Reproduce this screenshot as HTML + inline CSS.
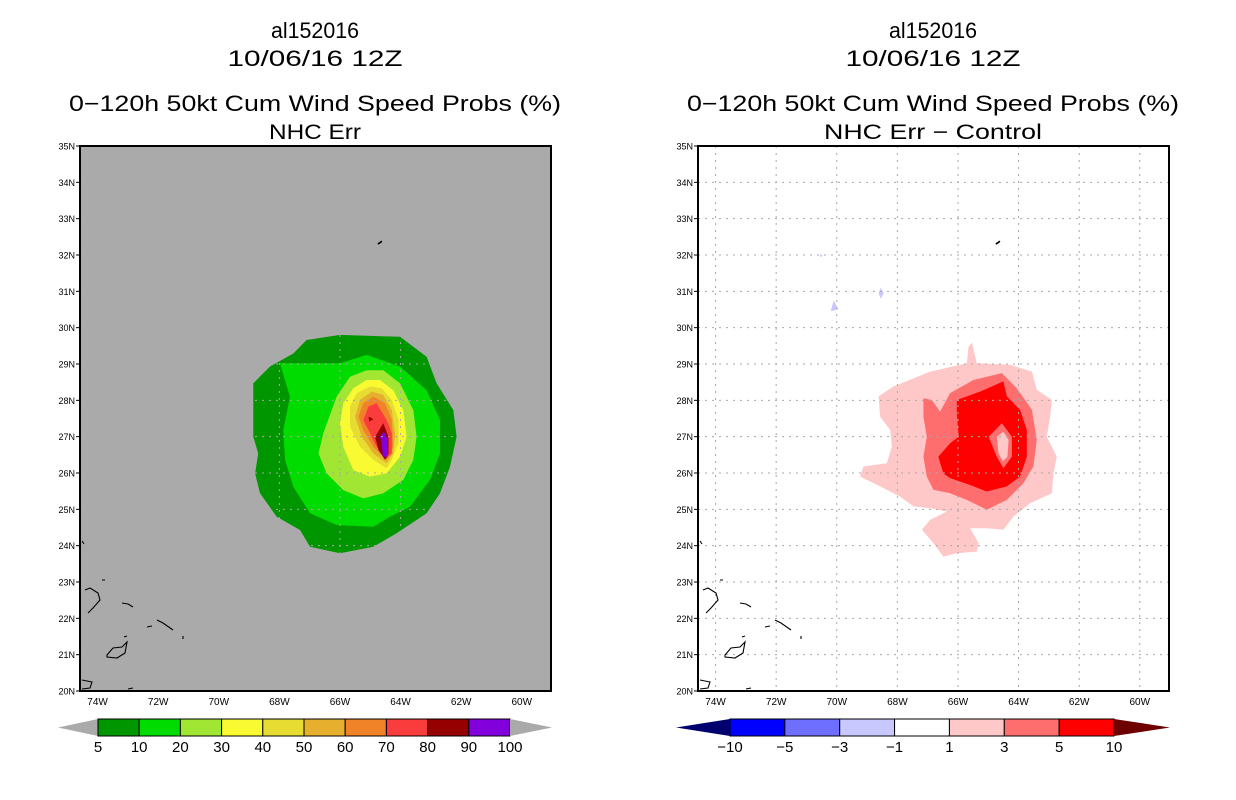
<!DOCTYPE html>
<html><head><meta charset="utf-8"><style>
html,body{margin:0;padding:0;background:#fff;}
svg{display:block;font-family:"Liberation Sans",sans-serif;}
</style></head><body>
<svg id="c" width="1236" height="800" xmlns="http://www.w3.org/2000/svg"></svg>
<script>
// ---- data: contour polygons as [lonW, latN] ----
const probLevels = [5,10,20,30,40,50,60,70,80,90];
const probColors = ["#009600","#00dc00","#a0e632","#fafa32","#e6dc32","#e6af2d","#f08228","#fa3c3c","#960000","#8200dc"];
const probTicks = ["5","10","20","30","40","50","60","70","80","90","100"];
const prob5 = [[67.10,29.66],[66.00,29.80],[64.02,29.75],[63.14,29.20],[62.81,28.47],[62.26,27.73],[62.15,27.0],[62.37,26.17],[62.70,25.44],[63.14,24.89],[64.13,24.34],[64.90,23.97],[66.00,23.79],[66.99,23.97],[67.32,24.43],[68.09,24.80],[68.64,25.44],[68.80,25.99],[68.70,26.54],[68.86,27.0],[68.86,28.47],[68.31,28.93],[67.54,29.29]];
const prob10 = [[67.98,29.02],[66.0,29.02],[65.12,29.25],[64.02,28.93],[63.14,28.28],[62.70,27.46],[62.70,26.54],[63.03,25.81],[63.69,25.07],[64.35,24.80],[64.90,24.52],[66.11,24.57],[66.99,24.89],[67.54,25.62],[67.81,26.36],[67.87,27.18],[67.65,28.10]];
const prob20 = [[65.67,28.65],[65.12,28.83],[64.57,28.83],[64.02,28.47],[63.58,27.73],[63.47,27.0],[63.58,26.36],[63.91,25.81],[64.57,25.44],[65.23,25.30],[65.89,25.53],[66.44,25.99],[66.71,26.54],[66.55,27.09],[66.11,28.10]];
const prob30 = [[65.56,28.33],[65.12,28.56],[64.68,28.56],[64.24,28.28],[63.91,27.73],[63.80,27.0],[64.02,26.45],[64.46,25.99],[65.01,25.90],[65.56,26.08],[65.89,26.72],[66.0,27.37],[65.89,27.92]];
const prob40 = [[65.45,28.19],[65.01,28.38],[64.62,28.33],[64.29,28.01],[64.07,27.46],[64.07,26.82],[64.29,26.36],[64.46,26.13],[64.90,26.36],[65.34,26.72],[65.67,27.28],[65.67,27.83]];
const prob50 = [[65.34,28.01],[64.95,28.24],[64.57,28.15],[64.29,27.73],[64.18,27.09],[64.24,26.54],[64.46,26.27],[64.90,26.54],[65.28,27.0],[65.50,27.55]];
const prob60 = [[65.23,27.92],[64.90,28.10],[64.51,27.92],[64.29,27.46],[64.24,26.72],[64.46,26.36],[64.90,26.72],[65.23,27.18],[65.39,27.55]];
const prob70 = [[65.06,27.83],[64.79,27.92],[64.46,27.46],[64.29,27.09],[64.29,26.54],[64.46,26.40],[64.79,26.72],[65.06,27.18],[65.23,27.46]];
const prob80 = [[64.84,27.0],[64.57,27.37],[64.40,27.0],[64.40,26.54],[64.51,26.36],[64.73,26.63]];
const prob80b = [[65.06,27.55],[64.90,27.49],[65.03,27.41]];
const prob90 = [[64.68,27.0],[64.55,27.14],[64.44,26.95],[64.44,26.45],[64.59,26.45],[64.62,26.82]];

const diffColors = ["#00006e","#0000ff","#6e6eff","#c8c8ff","#ffffff","#ffc8c8","#ff6e6e","#ff0000","#6e0000"];
const diffTicks = ["\u221210","\u22125","\u22123","\u22121","1","3","5","10"];
const diff1 = [[65.54,29.59],[65.38,29.02],[64.28,28.98],[63.56,28.79],[63.40,28.29],[62.90,28.01],[62.96,27.55],[63.07,27.0],[62.74,26.45],[62.85,25.99],[62.90,25.44],[63.62,25.17],[64.17,24.80],[64.50,24.44],[65.05,24.48],[65.60,24.48],[65.32,24.07],[65.38,23.84],[66.04,23.79],[66.48,23.70],[66.81,24.07],[67.19,24.44],[66.92,24.71],[66.37,24.94],[66.92,25.03],[67.47,25.08],[67.91,25.35],[68.57,25.63],[69.23,25.90],[69.12,26.18],[68.35,26.27],[68.18,26.73],[68.24,27.19],[68.57,27.55],[68.62,28.11],[68.13,28.38],[66.92,28.79],[65.71,29.02],[65.65,29.48]];
const diff3 = [[67.14,28.06],[66.86,28.01],[66.59,27.69],[66.26,28.20],[65.49,28.56],[64.55,28.75],[64.06,28.33],[63.56,27.74],[63.40,26.91],[63.51,26.18],[63.84,25.72],[64.39,25.26],[65.05,24.99],[65.71,25.26],[66.26,25.44],[66.81,25.54],[67.03,25.90],[67.14,26.45],[67.03,27.0],[67.14,27.55]];
const diff5 = [[66.04,28.01],[65.27,28.24],[64.50,28.52],[64.39,28.11],[63.95,27.74],[63.73,27.19],[63.73,26.45],[63.95,25.90],[64.39,25.63],[65.05,25.49],[65.60,25.67],[66.26,25.86],[66.48,25.99],[66.65,26.45],[66.26,26.82],[65.98,27.0],[66.04,27.65]];
const diff3in = [[64.99,27.0],[64.55,27.37],[64.22,27.0],[64.22,26.45],[64.50,26.13],[64.72,26.45]];
const diff1in = [[64.72,27.0],[64.50,27.14],[64.33,26.91],[64.37,26.45],[64.52,26.32],[64.66,26.54]];
const neg1a = [[70.1,30.75],[69.95,30.5],[70.2,30.45]];
const neg1b = [[68.55,31.1],[68.45,30.95],[68.55,30.8],[68.62,30.95]];
const neg1c = [[70.55,32.03],[70.45,31.97],[70.55,31.95]];

const latTicks = [20,21,22,23,24,25,26,27,28,29,30,31,32,33,34,35];
const lonTicks = [74,72,70,68,66,64,62,60];

const NS="http://www.w3.org/2000/svg";
const svg=document.getElementById('c');
function mk(tag,attrs,parent){const e=document.createElementNS(NS,tag);for(const k in attrs)e.setAttribute(k,attrs[k]);(parent||svg).appendChild(e);return e;}
const PT=146,PB=691,PW=471;
const yLat=lat=>PB-(lat-20)*(PB-PT)/15;
function xLon(x0){return w=>x0+(74.58-w)*30.3;}
function poly(pts,x,fill,g,name){const p=mk('polygon',{points:pts.map(q=>x(q[0]).toFixed(1)+','+yLat(q[1]).toFixed(1)).join(' '),fill:fill},g);


return p;}
function text(s,x,y,size,g,name,anchor,len){const t=mk('text',{x:x,y:y,'font-size':size,'text-anchor':anchor||'middle',fill:'#000'},g);t.textContent=s;
if(len){t.setAttribute('textLength',len);t.setAttribute('lengthAdjust','spacingAndGlyphs');}


return t;}

const coast=[
"M85,590 L90,588 L98,593 L100,600 L93,608 L88,613","M102,580 L105,580",
"M122,603 L128,604 L133,607","M147,627 L152,626","M157,620 L163,623 L173,630",
"M107,655 L113,648 L122,647 L127,642 L125,653 L117,658 L107,657 Z","M124,637 L127,636",
"M183,636 L183,639","M82,680 L92,682 L90,688 L82,689","M128,689 L133,688","M82,541 L84,544"];

function panel(x0,bg,title2,name,len2){
  const g=mk('g',{},svg);
  
  
  const x=xLon(x0);
  const cx=x0+235;
  text('al152016',cx,38,22,g,'title-storm-id','middle',88);
  text('10/06/16 12Z',cx,66,22,g,'title-date','middle',175);
  text('0\u2212120h 50kt Cum Wind Speed Probs (%)',cx,111,22,g,'title-product','middle',492);
  text(title2,cx,139,21,g,'subtitle','middle',len2);
  const bgr=mk('rect',{x:x0,y:PT,width:PW,height:PB-PT,fill:bg},g);
  
  
  return {g,x,x0};
}
function frame(P){
  const {g,x,x0}=P;
  lonTicks.forEach(w=>{const l=mk('line',{x1:x(w),x2:x(w),y1:PT,y2:PB,stroke:'#a8a8a8','stroke-dasharray':'2,5'},g);
    
    
    text(w+'W',x(w),705,10,g,'x-tick-label');});
  latTicks.forEach(l=>{const y=yLat(l);
    if(l>20&&l<35){const gl=mk('line',{x1:x0,x2:x0+PW,y1:y,y2:y,stroke:'#a8a8a8','stroke-dasharray':'2,5'},g);
      
      }
    mk('line',{x1:x0-4,x2:x0,y1:y,y2:y,stroke:'#000'},g);
    text(l+'N',x0-5,y+3.5,9,g,'y-tick-label','end');});
  const cp=mk('path',{d:coast.join(' '),fill:'none',stroke:'#000','stroke-width':1.1,transform:'translate('+(x0-80)+',0)'},g);
  
  
  const bm=mk('path',{d:'M'+x(64.75)+','+yLat(32.3)+' l3,-2 l1,-1',fill:'none',stroke:'#000','stroke-width':1.6},g);
  
  
  const fr=mk('rect',{x:x0,y:PT,width:PW,height:PB-PT,fill:'none',stroke:'#000','stroke-width':2},g);
  
  
}

// left panel
const L=panel(80,'#aaaaaa','NHC Err','panel-probs',92);
[prob5,prob10,prob20,prob30,prob40,prob50,prob60,prob70,prob80,prob90].forEach((p,i)=>poly(p,L.x,probColors[i],L.g,'contour-'+probLevels[i]));
poly(prob80b,L.x,probColors[8],L.g,'contour-80-small');
frame(L);
// right panel
const R=panel(698,'#ffffff','NHC Err \u2212 Control','panel-diff',218);
poly(diff1,R.x,diffColors[5],R.g,'diff-1');
poly(diff3,R.x,diffColors[6],R.g,'diff-3');
poly(diff5,R.x,diffColors[7],R.g,'diff-5');
poly(diff3in,R.x,diffColors[6],R.g,'diff-3-inner');
poly(diff1in,R.x,diffColors[5],R.g,'diff-1-inner');
[neg1a,neg1b,neg1c].forEach(p=>poly(p,R.x,diffColors[3],R.g,'diff-neg1'));
frame(R);

// colorbars
function colorbar(x0,x1,t0,t1,cols,ticks,name){
  const g=mk('g',{},svg);
  
  
  const n=cols.length-2, w=(x1-x0)/n, yt=719, yb=736, ym=727.5;
  const a=mk('polygon',{points:`${t0},${ym} ${x0},${yt} ${x0},${yb}`,fill:cols[0]},g);
  
  
  for(let i=0;i<n;i++){const r=mk('rect',{x:x0+i*w,y:yt,width:w,height:yb-yt,fill:cols[i+1],stroke:'#000','stroke-width':1},g);
    
    }
  const b=mk('polygon',{points:`${x1},${yt} ${t1},${ym} ${x1},${yb}`,fill:cols[cols.length-1]},g);
  
  
  ticks.forEach((s,i)=>text(s,x0+i*w,752,15,g,'colorbar-label'));
}
colorbar(98,510,58,552,["#aaaaaa"].concat(probColors).concat(["#aaaaaa"]),probTicks,'colorbar-probs');
colorbar(730,1114,676,1170,diffColors,diffTicks,'colorbar-diff');
</script>
</body></html>
